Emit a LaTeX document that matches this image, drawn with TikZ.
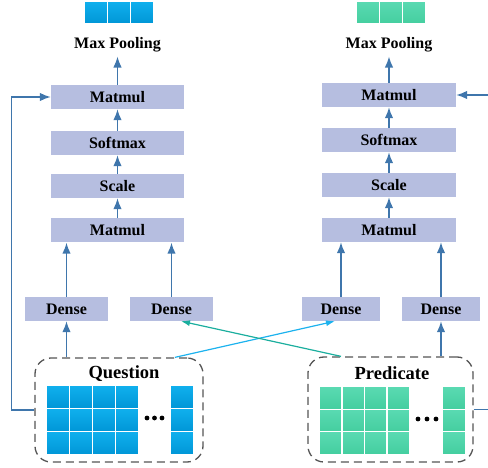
\documentclass[tikz,border=0pt]{standalone}
\usepackage{fontspec}
\setmainfont{Liberation Serif}
\usetikzlibrary{arrows.meta}

\definecolor{boxfill}{HTML}{B6BEE0}
\definecolor{linkblue}{HTML}{3F76AC}
\definecolor{cyanlink}{HTML}{1CB2EE}
\definecolor{teallink}{HTML}{1BAE9E}
\definecolor{qtop}{HTML}{10B0EE}
\definecolor{qbot}{HTML}{0096D6}
\definecolor{ptop}{HTML}{5ADAB2}
\definecolor{pbot}{HTML}{44CE9F}
\definecolor{dashgray}{HTML}{555555}

\begin{document}
\begin{tikzpicture}[x=1pt,y=-1pt,
  op/.style={fill=boxfill, draw=none, minimum height=24pt, inner sep=0pt,
    font=\fontsize{16}{16}\selectfont\bfseries},
  wide/.style={op, minimum width=133pt},
  dense/.style={op, minimum width=83pt},
  pool/.style={inner sep=0pt, font=\fontsize{16}{16}\selectfont\bfseries},
  title/.style={inner sep=0pt, font=\fontsize{18.5}{18.5}\selectfont\bfseries},
  frame/.style={draw=dashgray, line width=1.3pt, rounded corners=16pt,
    dash pattern=on 8pt off 5pt, inner sep=0pt},
  qcell/.style={inner sep=0pt, minimum width=23pt, minimum height=23pt,
    top color=qtop, bottom color=qbot, draw=white, line width=1.2pt},
  pcell/.style={inner sep=0pt, minimum width=22.5pt, minimum height=22.5pt,
    top color=ptop, bottom color=pbot, draw=white, line width=1.2pt},
  flow/.style={draw=linkblue, line width=1.5pt, -{Latex[length=11pt,width=8.5pt]}},
  crossq/.style={draw=cyanlink, line width=1.2pt, -{Latex[length=9pt,width=6pt]}},
  crossp/.style={draw=teallink, line width=1.2pt, -{Latex[length=9pt,width=6pt]}},
]
\useasboundingbox (0,0) rectangle (488,468);

% ---------- question branch ----------
\node[wide] (lm2) at (117.5,97) {Matmul};
\node[wide] (lsm) at (117.5,143) {Softmax};
\node[wide] (lsc) at (117.5,186) {Scale};
\node[wide] (lm1) at (117.5,230.5) {Matmul};
\node[pool] (lpool) at (117.5,45) {Max Pooling};
\foreach \i/\x in {0/96,1/119,2/142}
  \node[qcell] (lout\i) at (\x,12.5) {};

\node[dense] (ld1) at (66.5,309) {Dense};
\node[dense] (ld2) at (171.5,309) {Dense};

% ---------- predicate branch ----------
\node[wide, minimum width=134pt] (rm2) at (389,95) {Matmul};
\node[wide, minimum width=134pt] (rsm) at (389,140) {Softmax};
\node[wide, minimum width=134pt] (rsc) at (389,185) {Scale};
\node[wide, minimum width=134pt] (rm1) at (389,230) {Matmul};
\node[pool] (rpool) at (389,45) {Max Pooling};
\foreach \i/\x in {0/368,1/391,2/414}
  \node[pcell, minimum width=23pt, minimum height=23pt] (rout\i) at (\x,12.5) {};

\node[dense, minimum width=78pt] (rd1) at (341,309) {Dense};
\node[dense, minimum width=78pt] (rd2) at (441,309) {Dense};

% ---------- input frames ----------
\node[frame, minimum width=168pt, minimum height=104pt] (qframe) at (119,410) {};
\node[title] (qlabel) at (124,374) {Question};
\foreach \j/\y in {0/397,1/420,2/443}{
  \foreach \i/\x in {0/58,1/81,2/104,3/127,4/182}
    \node[qcell] (q\i\j) at (\x,\y) {};
}
\foreach \d/\x in {0/147,1/154.5,2/162}
  \fill (\x,418) circle (2.4pt);

\node[frame, minimum width=165pt, minimum height=105pt] (pframe) at (390.5,409.5) {};
\node[title] (plabel) at (392,373) {Predicate};
\foreach \j/\y in {0/398,1/420.5,2/443}{
  \foreach \i/\x in {0/330.75,1/353.25,2/375.75,3/398.25,4/454}
    \node[pcell] (p\i\j) at (\x,\y) {};
}
\foreach \d/\x in {0/418,1/427,2/436}
  \fill (\x,419) circle (2.4pt);

% ---------- connectors ----------
\draw[flow] (lm2.north) -- ([yshift=-4pt]lpool.south);
\draw[flow] (lsm.north) -- (lm2.south);
\draw[flow] (lsc.north) -- (lsm.south);
\draw[flow] (lm1.north) -- (lsc.south);
\draw[flow] (ld1.north) -- (ld1.north |- lm1.south);
\draw[flow] (ld2.north) -- (ld2.north |- lm1.south);
\draw[flow] (qframe.north -| ld1) -- (ld1.south);
\draw[flow] (qframe.west) -- ++(-23,0) |- (lm2.west);

\draw[flow] (rm2.north) -- ([yshift=-4pt]rpool.south);
\draw[flow] (rsm.north) -- (rm2.south);
\draw[flow] (rsc.north) -- (rsm.south);
\draw[flow] (rm1.north) -- (rsc.south);
\draw[flow] (rd1.north) -- (rd1.north |- rm1.south);
\draw[flow] (rd2.north) -- (rd2.north |- rm1.south);
\draw[flow] (pframe.north -| rd2) -- (rd2.south);
\draw[flow] (pframe.east) -- ++(22,0) |- (rm2.east);

\draw[crossq] ([xshift=3.5pt]qframe.north -| ld2) -- ([xshift=-6pt]rd1.south);
\draw[crossp] (pframe.north -| rd1) -- ([xshift=9.5pt]ld2.south);
\end{tikzpicture}
\end{document}
